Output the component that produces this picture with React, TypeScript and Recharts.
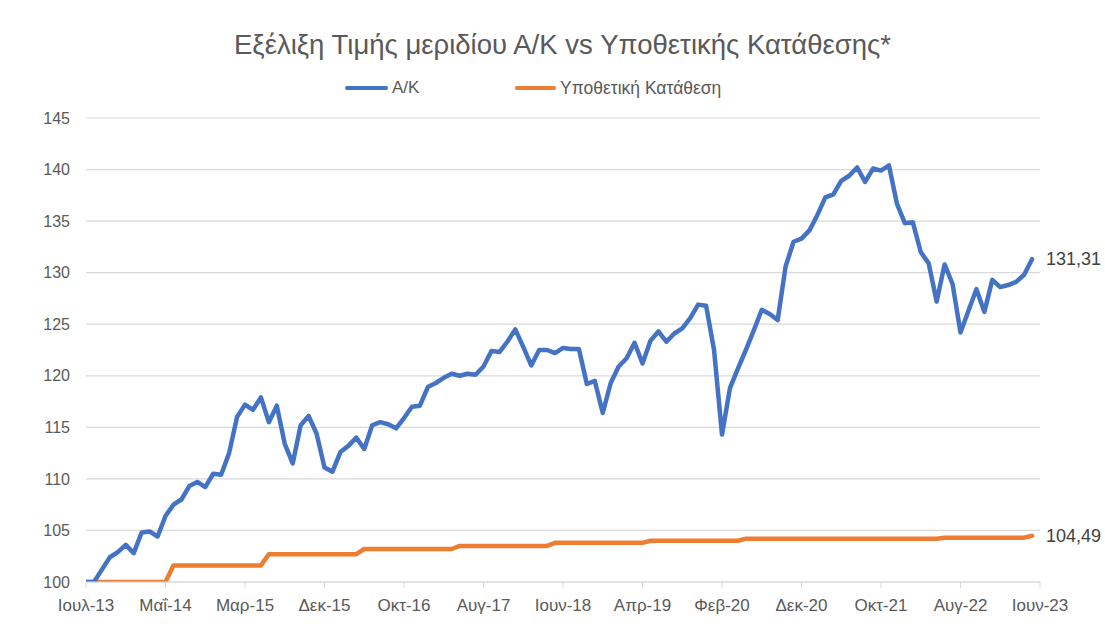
import React from 'react';
import { LineChart, Line, XAxis, YAxis, CartesianGrid } from 'recharts';

const MONTHS = ['Ιαν', 'Φεβ', 'Μαρ', 'Απρ', 'Μαΐ', 'Ιουν', 'Ιουλ', 'Αυγ', 'Σεπ', 'Οκτ', 'Νοε', 'Δεκ'];

const AK = [
  100.0, 100.0, 101.2, 102.4, 102.9, 103.6, 102.8, 104.8, 104.9, 104.4,
  106.4, 107.5, 108.0, 109.3, 109.7, 109.2, 110.5, 110.4, 112.5, 116.0,
  117.2, 116.7, 117.9, 115.5, 117.1, 113.4, 111.5, 115.2, 116.1, 114.4,
  111.1, 110.7, 112.6, 113.2, 114.0, 112.9, 115.2, 115.5, 115.3, 114.9,
  115.9, 117.0, 117.1, 118.9, 119.3, 119.8, 120.2, 120.0, 120.2, 120.1,
  120.9, 122.4, 122.3, 123.3, 124.5, 122.8, 121.0, 122.5, 122.5, 122.2,
  122.7, 122.6, 122.6, 119.2, 119.5, 116.4, 119.3, 120.9, 121.7, 123.2,
  121.2, 123.4, 124.3, 123.3, 124.1, 124.6, 125.6, 126.9, 126.8, 122.5,
  114.3, 118.8, 120.7, 122.5, 124.4, 126.4, 126.0, 125.4, 130.6, 133.0,
  133.3, 134.1, 135.6, 137.3, 137.6, 138.9, 139.4, 140.2, 138.8, 140.1,
  139.9, 140.4, 136.7, 134.8, 134.9, 132.0, 130.9, 127.2, 130.8, 128.9,
  124.2, 126.3, 128.4, 126.2, 129.3, 128.6, 128.8, 129.1, 129.8, 131.31,
];

const DEPOSIT = [
  100.0, 100.0, 100.0, 100.0, 100.0, 100.0, 100.0, 100.0, 100.0, 100.0,
  100.0, 101.6, 101.6, 101.6, 101.6, 101.6, 101.6, 101.6, 101.6, 101.6,
  101.6, 101.6, 101.6, 102.7, 102.7, 102.7, 102.7, 102.7, 102.7, 102.7,
  102.7, 102.7, 102.7, 102.7, 102.7, 103.2, 103.2, 103.2, 103.2, 103.2,
  103.2, 103.2, 103.2, 103.2, 103.2, 103.2, 103.2, 103.5, 103.5, 103.5,
  103.5, 103.5, 103.5, 103.5, 103.5, 103.5, 103.5, 103.5, 103.5, 103.8,
  103.8, 103.8, 103.8, 103.8, 103.8, 103.8, 103.8, 103.8, 103.8, 103.8,
  103.8, 104.0, 104.0, 104.0, 104.0, 104.0, 104.0, 104.0, 104.0, 104.0,
  104.0, 104.0, 104.0, 104.2, 104.2, 104.2, 104.2, 104.2, 104.2, 104.2,
  104.2, 104.2, 104.2, 104.2, 104.2, 104.2, 104.2, 104.2, 104.2, 104.2,
  104.2, 104.2, 104.2, 104.2, 104.2, 104.2, 104.2, 104.2, 104.3, 104.3,
  104.3, 104.3, 104.3, 104.3, 104.3, 104.3, 104.3, 104.3, 104.3, 104.49,
];

const TICK_LABELS = ['Ιουλ-13', 'Μαΐ-14', 'Μαρ-15', 'Δεκ-15', 'Οκτ-16', 'Αυγ-17', 'Ιουν-18', 'Απρ-19', 'Φεβ-20', 'Δεκ-20', 'Οκτ-21', 'Αυγ-22', 'Ιουν-23'];
const TICK_POS = [0, 10, 20, 30, 40, 50, 60, 70, 80, 90, 100, 110, 120];
const Y_TICKS = [100, 105, 110, 115, 120, 125, 130, 135, 140, 145];

const TITLE = 'Εξέλιξη Τιμής μεριδίου Α/Κ vs Υποθετικής Κατάθεσης*';
const SERIES_NAMES = ['Α/Κ', 'Υποθετική Κατάθεση'];
const COLORS = ['#4472C4', '#ED7D31'];

const CATEGORIES = AK.map((_, i) => {
  const m = (6 + i) % 12;
  const y = 13 + Math.floor((6 + i) / 12);
  return `${MONTHS[m]}-${y}`;
});

const data = AK.map((v, i) => ({ i, month: CATEGORIES[i], ak: v, dep: DEPOSIT[i] }));

const FONT = '"Liberation Sans", Arial, sans-serif';

const makeLastLabel = (n: number) => (props: any) => {
  const { x, y, index, value } = props;
  if (index !== n - 1) return null;
  return (
    <text x={x + 14} y={y} dy="0.35em" fill="#404040" fontSize={18} fontFamily={FONT}>
      {Number(value).toFixed(2).replace('.', ',')}
    </text>
  );
};

export default function App() {
  return (
    <div style={{ position: 'absolute', left: 0, top: 0, width: 1105, height: 638, background: '#fff', fontFamily: FONT }}>
      <div style={{ position: 'absolute', left: 10, top: 29, width: 1105, textAlign: 'center', fontSize: 27.5, lineHeight: '32px', color: '#595959' }}>
        {TITLE}
      </div>
      <div style={{ position: 'absolute', left: 345, top: 78, height: 20, display: 'flex', alignItems: 'center', fontSize: 17, color: '#595959' }}>
        <span style={{ display: 'inline-block', width: 43, height: 4, background: COLORS[0], borderRadius: 2, marginRight: 4 }} />
        <span>{SERIES_NAMES[0]}</span>
      </div>
      <div style={{ position: 'absolute', left: 515, top: 78, height: 20, display: 'flex', alignItems: 'center', fontSize: 17.5, color: '#595959' }}>
        <span style={{ display: 'inline-block', width: 41, height: 4, background: COLORS[1], borderRadius: 2, marginRight: 4 }} />
        <span>{SERIES_NAMES[1]}</span>
      </div>
      <LineChart width={1105} height={638} data={data} margin={{ top: 118, right: 65, bottom: 0, left: 0 }} style={{ position: 'absolute', left: 0, top: 0 }}>
        <CartesianGrid vertical={false} stroke="#d9d9d9" strokeWidth={1.2} />
        <XAxis
          dataKey="i"
          type="number"
          domain={[0, 120]}
          ticks={TICK_POS}
          tickFormatter={(v: number) => TICK_LABELS[TICK_POS.indexOf(v)] ?? ''}
          height={56}
          stroke="#d9d9d9"
          tickLine={{ stroke: '#d9d9d9' }}
          tickSize={6}
          tickMargin={11}
          tick={{ fill: '#595959', fontSize: 17, fontFamily: FONT }}
          interval={0}
          allowDataOverflow
        />
        <YAxis
          domain={[100, 145]}
          ticks={Y_TICKS}
          width={86}
          axisLine={false}
          tickLine={false}
          tickMargin={10}
          tick={{ fill: '#595959', fontSize: 16, fontFamily: FONT }}
          allowDataOverflow
        />
        <Line
          dataKey="dep"
          stroke={COLORS[1]}
          strokeWidth={4.5}
          dot={false}
          type="linear"
          isAnimationActive={false}
          strokeLinejoin="round"
          strokeLinecap="round"
          label={makeLastLabel(DEPOSIT.length)}
        />
        <Line
          dataKey="ak"
          stroke={COLORS[0]}
          strokeWidth={4.5}
          dot={false}
          type="linear"
          isAnimationActive={false}
          strokeLinejoin="round"
          strokeLinecap="round"
          label={makeLastLabel(AK.length)}
        />
      </LineChart>
    </div>
  );
}
